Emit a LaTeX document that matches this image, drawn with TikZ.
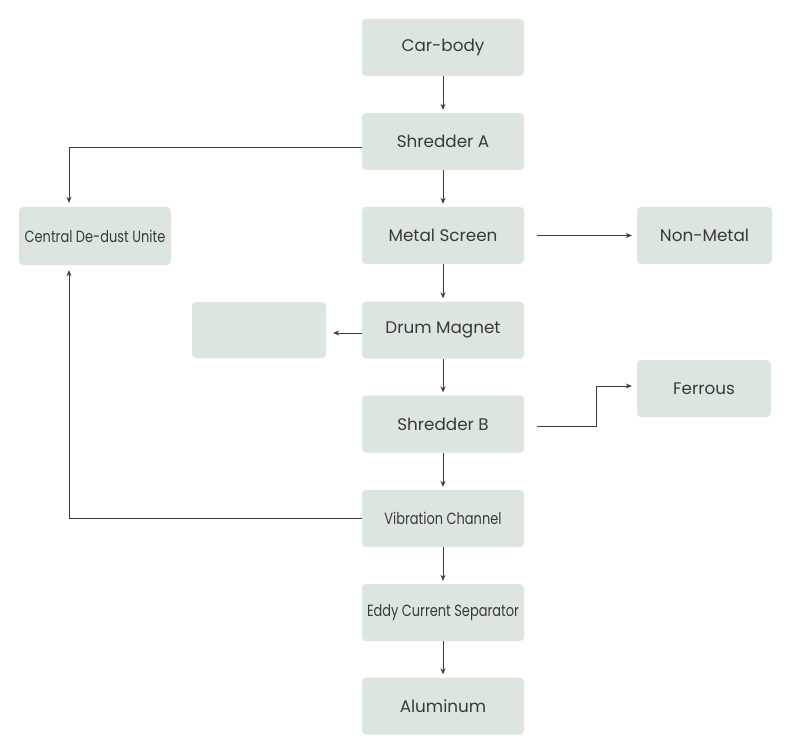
\documentclass[tikz,border=0pt]{standalone}
\usepackage{fontspec}
\setmainfont{Poppins}
\newfontfamily\condfont[FakeStretch=0.80]{Poppins}
\usetikzlibrary{arrows.meta,calc}
\definecolor{boxfill}{HTML}{DCE6DF}
\definecolor{txt}{HTML}{3A3A3A}
\definecolor{ln}{HTML}{3C3C3C}
\begin{document}
\begin{tikzpicture}[x=1pt,y=-1pt,
  box/.style={fill=boxfill,rounded corners=4pt,inner sep=0pt,text=txt,font=\fontsize{16.8}{19}\selectfont,minimum width=162pt,minimum height=57pt},
  cond/.style={font=\condfont\fontsize{16.2}{18}\selectfont},
  arr/.style={draw=ln,line width=0.8pt,-{Stealth[length=6pt,width=5pt]}},
  plain/.style={draw=ln,line width=0.8pt}]
\useasboundingbox[fill=white] (0,0) rectangle (800,754);
\node[box] (car) at (443,47.5) {Car-body};
\node[box] (shA) at (443,141.5) {Shredder A};
\node[box] (ms) at (443,235.5) {Metal Screen};
\node[box,minimum width=135pt] (nm) at (704.5,235.5) {Non-Metal};
\node[box,cond,minimum width=152pt,minimum height=58pt] (dd) at (95,236) {Central De-dust Unite};
\node[box] (dm) at (443,330) {Drum Magnet};
\node[box,minimum width=134pt,minimum height=56pt] (blank) at (259,330) {};
\node[box,minimum width=134pt] (fe) at (704,388.5) {Ferrous};
\node[box] (shB) at (443,424) {Shredder B};
\node[box,cond] (vib) at (443,518.5) {Vibration Channel};
\node[box,cond] (eddy) at (443,612.5) {Eddy Current Separator};
\node[box] (al) at (443,706) {Aluminum};
\draw[arr,shorten >=3pt] (car) -- (shA);
\draw[arr,shorten >=3pt] (shA) -- (ms);
\draw[arr,shorten >=3pt] (ms) -- (dm);
\draw[arr,shorten >=3pt] (dm) -- (shB);
\draw[arr,shorten >=3pt] (shB) -- (vib);
\draw[arr,shorten >=3pt] (vib) -- (eddy);
\draw[arr,shorten >=3pt] (eddy) -- (al);
\draw[arr,shorten <=13pt,shorten >=5pt] (ms.east) -- (nm.west);
\draw[arr,shorten >=7pt] ([yshift=-3pt]dm.west) -- ([yshift=-3pt]blank.east);
\coordinate (ddtop) at ([xshift=-26pt]dd.north);
\coordinate (ddbot) at ([xshift=-26pt]dd.south);
\draw[arr,shorten >=4pt] ([yshift=-6pt]shA.west) -| (ddtop);
\draw[arr,shorten >=5pt] (vib.west) -| (ddbot);
\coordinate (sbout) at ([xshift=13pt,yshift=-2pt]shB.east);
\draw[arr,shorten >=5pt] (sbout) -- ++(59,0) |- ([yshift=2.5pt]fe.west);
\end{tikzpicture}
\end{document}
